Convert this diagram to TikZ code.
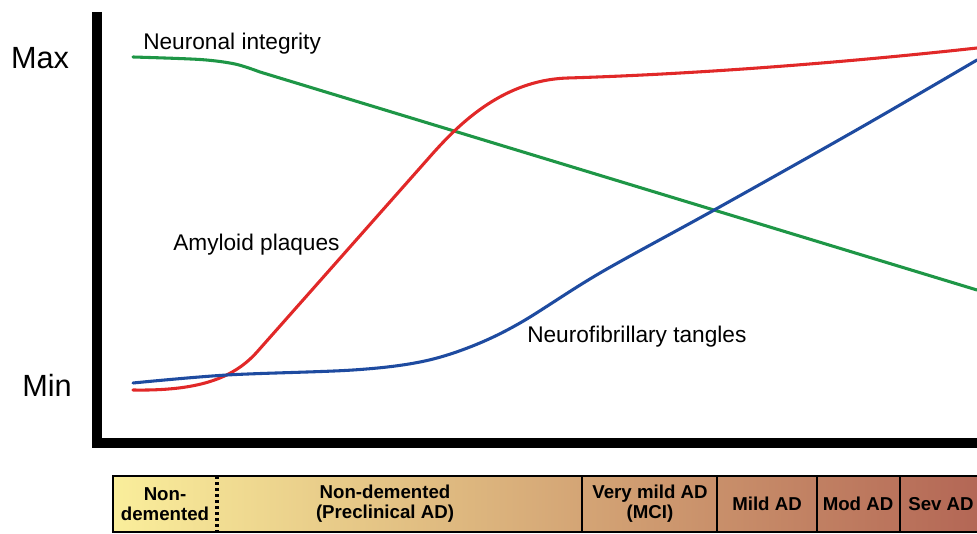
\documentclass[tikz,border=0pt]{standalone}
\usepackage{fontspec}
\setmainfont{Liberation Sans}
\definecolor{integrity}{RGB}{30,150,70}
\definecolor{plaque}{RGB}{225,40,40}
\definecolor{tangle}{RGB}{30,75,160}
\definecolor{stageA}{RGB}{250,238,155}
\definecolor{stageM}{RGB}{206,164,112}
\definecolor{stageB}{RGB}{178,100,84}
\begin{document}
\begin{tikzpicture}[x=0.75pt, y=-0.75pt,
    curve/.style={line width=2.3pt, line cap=round, line join=round},
    lbl/.style={font=\fontsize{17}{20}\selectfont, inner sep=0pt},
    axlbl/.style={font=\fontsize{23}{26}\selectfont, inner sep=0pt},
    stage/.style={font=\fontsize{14}{15}\selectfont\bfseries, align=center, inner sep=0pt}]
        \useasboundingbox (0,0) rectangle (977,534);
        \clip (0,0) rectangle (977,534);
        % axes
        \coordinate (top) at (97,12);
        \coordinate (origin) at (97,443);
        \coordinate (right) at (995,443);
        \draw[line width=7.5pt, miter limit=4] (top) -- (origin) -- (right);
        \node[axlbl] (max) at (40,58) {Max};
        \node[axlbl] (min) at (47,385) {Min};
        % curves
        \draw[curve, integrity] plot[smooth] coordinates {(133,57) (200,59.5) (235,64) (260,72)} -- (977,290);
        \draw[curve, plaque] (133,390) .. controls (195,391) and (232,380) .. (257,352) -- (427,160)
            .. controls (455,128) and (500,80) .. (568,78) .. controls (700,74) and (850,62) .. (977,48);
        \draw[curve, tangle] plot[smooth, tension=0.55] coordinates {(133,383) (227,375) (353,370) (420,362) (470,347) (520,323) (600,273) (716,209) (860,128) (977,60)};
        \node[lbl, anchor=west] (integritylbl) at (143,44) {Neuronal integrity};
        \node[lbl, anchor=west] (plaquelbl) at (173,245) {Amyloid plaques};
        \node[lbl, anchor=west] (tanglelbl) at (527,337) {Neurofibrillary tangles};
        % stage bar
        \shade[left color=stageA, middle color=stageM, right color=stageB] (113,476) rectangle (995,532);
        \draw[line width=2.2pt] (113,476) rectangle (995,532);
        \draw[line width=2.6pt, dash pattern=on 2.5pt off 2pt] (217,476) -- (217,532);
        \foreach \x in {582,717,817,900}
            \draw[line width=2.2pt] (\x,476) -- (\x,532);
        \foreach \pos/\name/\txt in {165/s1/{Non-\\demented}, 385/s2/{Non-demented\\(Preclinical AD)}, 650/s3/{Very mild AD\\(MCI)}, 767/s4/{Mild AD}, 858/s5/{Mod AD}, 941/s6/{Sev AD}}
            \node[stage] (\name) at (\pos,504) {\txt};
    \end{tikzpicture}
\end{document}
